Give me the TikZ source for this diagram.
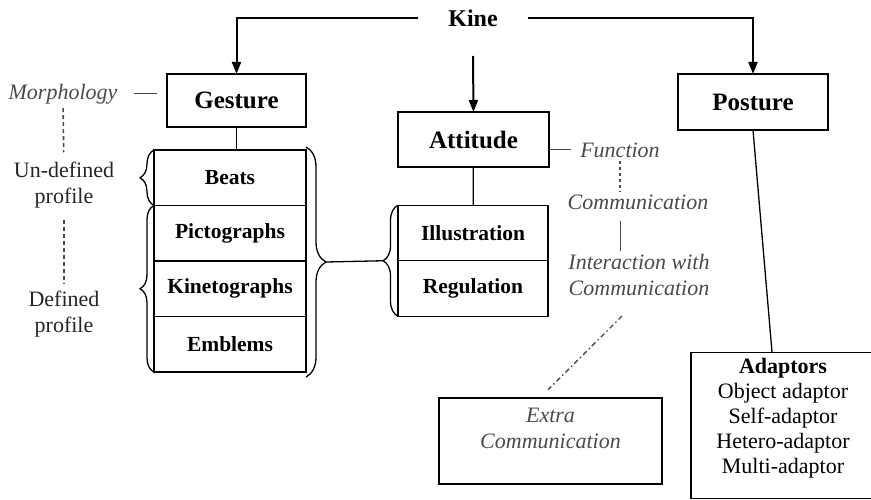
\documentclass[tikz,border=0pt]{standalone}
\usepackage{fontspec}
\setmainfont{Liberation Serif}
\usetikzlibrary{positioning,arrows.meta,decorations.pathreplacing}

\definecolor{notegray}{HTML}{4A4A4A}

\begin{document}
\begin{tikzpicture}[x=1pt,y=-1pt,>={Triangle[length=12pt,width=9pt]},
   head/.style={draw,line width=1.4pt,outer sep=0pt,font=\fontsize{25}{30}\selectfont\bfseries},
   item/.style={draw,line width=1.3pt,outer sep=0pt,minimum height=55.5pt,font=\fontsize{21.5}{25}\selectfont\bfseries},
   note/.style={text=notegray,align=center,inner sep=3pt,font=\fontsize{22}{26}\selectfont\itshape},
   side/.style={text=black!85,align=center,font=\fontsize{22}{26}\selectfont},
   link/.style={line width=1.3pt},
   kinearrow/.style={->,line width=2pt},
   gline/.style={notegray,line width=1pt},
   gdash/.style={notegray,line width=1.6pt,dash pattern=on 4pt off 3pt},
   gdashdot/.style={notegray,line width=1.3pt,dash pattern=on 5pt off 3pt on 1.5pt off 3pt},
   bracket/.style={link,decorate}]
   \path[use as bounding box,clip] (0,0) rectangle (871,500);

   % top level
   \node[font=\fontsize{24}{28}\selectfont\bfseries,inner xsep=30pt] (kine) at (473,18) {Kine};
   \node[head,minimum width=139pt,minimum height=53pt] (gesture)  at (236.5,100.5) {Gesture};
   \node[head,minimum width=151pt,minimum height=55pt] (attitude) at (473.5,139.5) {Attitude};
   \node[head,minimum width=150pt,minimum height=56pt] (posture)  at (753,102)     {Posture};

   % gesture list
   \node[item,minimum width=152pt]                    (beats)   at (230,177.75) {Beats};
   \node[item,minimum width=152pt,below=0pt of beats]  (picto)   {Pictographs};
   \node[item,minimum width=152pt,below=0pt of picto]  (kineto)  {Kinetographs};
   \node[item,minimum width=152pt,below=0pt of kineto] (emblems) {Emblems};

   % attitude list
   \node[item,minimum width=150pt]                   (illus) at (473,233) {Illustration};
   \node[item,minimum width=150pt,below=0pt of illus] (regul) {Regulation};

   % side notes
   \node[note] (morph)    at (63,94)   {Morphology};
   \node[side] (undef)    at (64,185)  {Un-defined\\profile};
   \node[side] (def)      at (64,314)  {Defined\\profile};
   \node[note] (func)     at (620,150) {Function};
   \node[note] (comm)     at (638,202) {Communication};
   \node[note] (interact) at (639,275) {Interaction with\\Communication};

   % boxes at the bottom
   \node[draw,link,minimum width=223pt,minimum height=86pt] (extra) at (550.5,441) {};
   \node[note,below=8pt of extra.north] (extratext) {Extra\\Communication};
   \node[draw,link,minimum width=184pt,minimum height=146pt,anchor=north] (adaptors) at (783,352) {};
   \node[side,text=black,inner sep=3pt,font=\fontsize{22}{25}\selectfont,below=3pt of adaptors.north] (adaptlist)
      {\textbf{Adaptors}\\Object adaptor\\Self-adaptor\\Hetero-adaptor\\Multi-adaptor};

   % connectors
   \draw[kinearrow] (kine.west) -| (gesture.north);
   \draw[kinearrow] (kine.east) -| (posture.north);
   \draw[kinearrow] ([yshift=-38pt]kine.center) -- (attitude.north);
   \draw[link] (gesture) -- (gesture |- beats.north);
   \draw[link] (attitude) -- (illus);
   \draw[link] (posture.south) -- ([xshift=-11pt]adaptors.north);

   % braces
   \draw[bracket,decoration={brace,amplitude=14pt}] (beats.south west) -- (beats.north west);
   \draw[bracket,decoration={brace,amplitude=14pt}] (emblems.south west) -- (picto.north west);
   \draw[bracket,decoration={brace,amplitude=20pt}] ([yshift=3pt]beats.north east)
      -- coordinate[midway,xshift=20pt] (gtip) ([yshift=-5pt]emblems.south east);
   \draw[bracket,decoration={brace,amplitude=15pt}] (regul.south west)
      -- coordinate[midway,xshift=-15pt] (atip) (illus.north west);
   \draw[link] (gtip) -- (atip);

   % notes
   \draw[gline,shorten <=13pt,shorten >=10pt] (morph.east) -- (morph.east -| gesture.west);
   \draw[gdash,shorten <=1pt,shorten >=6pt] (morph) -- (undef);
   \draw[gdash,shorten <=8pt,shorten >=4pt] (undef) -- (def);
   \draw[gline,shorten >=6pt] (attitude.east |- func.west) -- (func.west);
   \draw[gdash,dash pattern=on 3pt off 3pt] (func.south) -- (func.south |- comm.north);
   \draw[gline,shorten <=8pt] (comm.south -| func.south) -- (func.south |- interact.north);
   \draw[gdashdot,shorten <=24pt,shorten >=11pt] (interact.south) -- ([xshift=-10pt]extra.north);
\end{tikzpicture}
\end{document}
